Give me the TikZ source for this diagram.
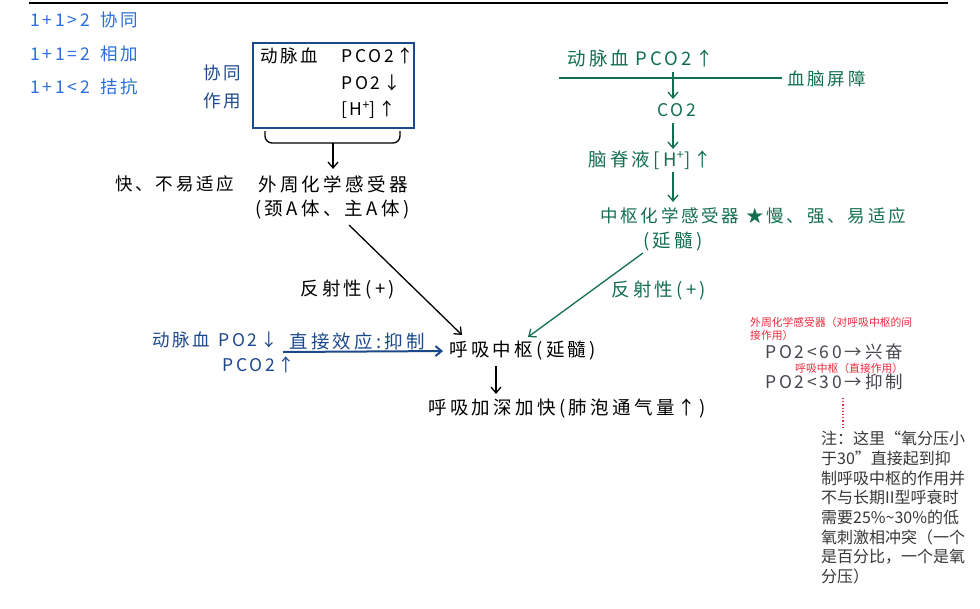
\documentclass[tikz,border=0pt]{standalone}
\usepackage{fontspec}
\setmainfont{Noto Sans CJK SC}
\newfontfamily\hw[LetterSpace=18]{Noto Sans CJK SC}
\newfontfamily\hws[LetterSpace=16]{Noto Sans CJK SC}
\usetikzlibrary{arrows.meta}
\definecolor{legblue}{RGB}{40,110,225}
\definecolor{dblue}{RGB}{28,72,140}
\definecolor{dgreen}{RGB}{18,110,80}
\definecolor{annred}{RGB}{235,40,60}
\definecolor{ggray}{RGB}{70,70,80}
\definecolor{notegray}{RGB}{55,55,55}
\tikzset{
  lbl/.style={inner sep=0pt, anchor=west, font=\hw\fontsize{18.5}{20}\selectfont},
  lbls/.style={inner sep=0pt, anchor=west, font=\hws\fontsize{17.5}{19}\selectfont},
  small/.style={inner sep=0pt, anchor=west, font=\fontsize{10.8}{13}\selectfont, text=annred},
  arr/.style={-{Straight Barb[length=6pt,width=10pt]}, line width=1.3pt},
}
\begin{document}
\begin{tikzpicture}[x=1pt,y=-1pt]
\useasboundingbox (0,0) rectangle (980,608);
% top rule
\coordinate (r1) at (29,3); \coordinate (r2) at (948,3);
\draw[line width=1.3pt] (r1) -- (r2);

% legend
\node[lbls,text=legblue] (l1) at (30,20) {1+1>2};
\node[lbls,text=legblue] (l1b) at (100,20) {协同};
\node[lbls,text=legblue] (l2) at (30,54) {1+1=2};
\node[lbls,text=legblue] (l2b) at (100,54) {相加};
\node[lbls,text=legblue] (l3) at (30,87) {1+1<2};
\node[lbls,text=legblue] (l3b) at (100,87) {拮抗};

% synergy box
\node[lbls,text=dblue] (xt1) at (203,73) {协同};
\node[lbls,text=dblue] (xt2) at (203,101) {作用};
\node[draw=dblue, line width=2pt, anchor=north west, minimum width=161, minimum height=85, inner sep=0pt] (box) at (252,42) {};
\node[lbls] (b1) at (260,56) {动脉血};
\node[lbls] (b2) at (341,56) {PCO2↑};
\node[lbls] (b3) at (341,83) {PO2↓};
\node[lbls] (b4) at (341,110) {[H\textsuperscript{+}]↑};
\draw[line width=1.3pt, rounded corners=7pt] (265,131) -- (265,143) -- (400,143) -- (400,131);
\coordinate (bm) at (333,143);
\coordinate (bme) at (333,169);
\draw[arr] (bm) -- (bme);

% peripheral chemoreceptors
\node[lbls] (fast) at (115,184) {快、不易适应};
\node[lbl] (pc) at (258,184) {外周化学感受器};
\node[lbl] (pc2) at (255,210) {(颈A体、主A体)};
\coordinate (a1s) at (349,225); \coordinate (a1e) at (462,335);
\draw[arr] (a1s) -- (a1e);
\node[lbl] (ref1) at (300,290) {反射性(+)};

% central chemoreceptors (green)
\node[lbl,text=dgreen] (g1) at (567,58) {动脉血\hspace{6pt}PCO2↑};
\coordinate (bb1) at (559,78); \coordinate (bb2) at (782,78);
\draw[dgreen, line width=1.8pt] (bb1) -- (bb2);
\node[lbls,text=dgreen] (bbb) at (787,79) {血脑屏障};
\node[lbls,text=dgreen] (co2) at (657,110) {CO2};
\node[lbl,text=dgreen] (csf) at (588,160) {脑脊液[H\textsuperscript{+}]↑};
\node[lbls,text=dgreen] (cc) at (600,216) {中枢化学感受器 ★慢、强、易适应};
\node[lbl,text=dgreen] (cc2) at (643,242) {(延髓)};
\node[lbl,text=dgreen] (ref2) at (611,291) {反射性(+)};
\coordinate (g1a) at (673,72); \coordinate (g1b) at (673,99);
\coordinate (g2a) at (673,123); \coordinate (g2b) at (673,149);
\coordinate (g3a) at (673,172); \coordinate (g3b) at (673,202);
\draw[arr,dgreen] (g1a) -- (g1b);
\draw[arr,dgreen] (g2a) -- (g2b);
\draw[arr,dgreen] (g3a) -- (g3b);
\coordinate (g4a) at (643,253); \coordinate (g4b) at (528,337);
\draw[arr,dgreen] (g4a) -- (g4b);

% respiratory centre
\node[lbl] (rc) at (449,351) {呼吸中枢(延髓)};
\coordinate (rca) at (496,366); \coordinate (rcb) at (496,394);
\draw[arr] (rca) -- (rcb);
\node[lbl] (res) at (428,408) {呼吸加深加快(肺泡通气量↑)};

% direct effect (blue)
\node[lbls,text=dblue] (d1) at (152,340) {动脉血\hspace{8pt}PO2↓};
\node[lbls,text=dblue] (d2) at (222,365) {PCO2↑};
\node[lbl,text=dblue] (d3) at (289,341) {直接效应:抑制};
\coordinate (dba) at (283,352);
\draw[arr,dblue,line width=2pt,shorten >=6pt] (dba) -- (rc.west);

% right annotations
\node[small] (n1) at (750,322) {外周化学感受器（对呼吸中枢的间};
\node[small] (n2) at (750,335) {接作用）};
\node[lbls,text=ggray] (p60) at (765,352) {PO2<60→兴奋};
\node[small] (n3) at (795,368) {呼吸中枢（直接作用）};
\node[lbls,text=ggray] (p30) at (765,382) {PO2<30→抑制};
\coordinate (da) at (843,398); \coordinate (db) at (843,428);
\draw[annred, line width=1.2pt, dotted] (da) -- (db);
\node[inner sep=0pt, anchor=north west, align=left, text=notegray,
      font=\fontsize{16}{19.7}\selectfont] (note) at (821,431)
  {注：这里“氧分压小\\于30”直接起到抑\\制呼吸中枢的作用并\\不与长期II型呼衰时\\需要25\%\textasciitilde30\%的低\\氧刺激相冲突（一个\\是百分比，一个是氧\\分压）};
\end{tikzpicture}
\end{document}
